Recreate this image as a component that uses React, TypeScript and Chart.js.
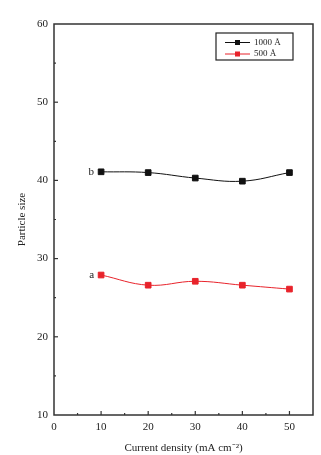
import React, { useEffect, useRef } from "react";
import { Chart, registerables } from "chart.js";

Chart.register(...registerables);

const currentDensity = [10, 20, 30, 40, 50];
const size1000 = [41.1, 41.0, 40.3, 39.9, 41.0];
const size500 = [27.9, 26.6, 27.1, 26.6, 26.1];
const seriesLabels = ["1000 Å", "500 Å"];
const curveTags = ["b", "a"];
const xTitle = "Current density (mA cm\u207B\u00B2)";
const yTitle = "Particle size";

const FONT = "'Liberation Serif', 'Times New Roman', serif";
const RED = "#e8232b";
const BLACK = "#111111";

const framePlugin = {
  id: "frame",
  afterDraw(chart: any) {
    const { ctx, chartArea } = chart;
    const { left, right, top, bottom } = chartArea;
    const xs = chart.scales.x;
    const ys = chart.scales.y;
    ctx.save();
    ctx.strokeStyle = "#333";
    ctx.lineWidth = 1.5;
    ctx.strokeRect(left, top, right - left, bottom - top);
    ctx.lineWidth = 1.2;
    for (let v = 5; v < 55; v += 5) {
      const px = xs.getPixelForValue(v);
      const len = v % 10 === 0 ? 4 : 2;
      ctx.beginPath();
      ctx.moveTo(px, bottom);
      ctx.lineTo(px, bottom - len);
      ctx.stroke();
    }
    for (let v = 15; v < 60; v += 5) {
      const py = ys.getPixelForValue(v);
      const len = v % 10 === 0 ? 4 : 2;
      ctx.beginPath();
      ctx.moveTo(left, py);
      ctx.lineTo(left + len, py);
      ctx.stroke();
    }
    ctx.fillStyle = "#222";
    ctx.font = `11px ${FONT}`;
    ctx.textAlign = "right";
    ctx.textBaseline = "middle";
    const d0 = chart.getDatasetMeta(0).data[0];
    const d1 = chart.getDatasetMeta(1).data[0];
    ctx.fillText(curveTags[0], d0.x - 7, d0.y);
    ctx.fillText(curveTags[1], d1.x - 7, d1.y);
    const lx = right - 97;
    const ly = top + 9;
    const lw = 77;
    const lh = 27;
    ctx.lineWidth = 1.2;
    ctx.strokeStyle = "#222";
    ctx.strokeRect(lx, ly, lw, lh);
    const colors = [BLACK, RED];
    ctx.textAlign = "left";
    ctx.font = `9px ${FONT}`;
    for (let i = 0; i < 2; i++) {
      const cy = ly + 9.5 + i * 11.5;
      ctx.strokeStyle = colors[i];
      ctx.lineWidth = 1;
      ctx.beginPath();
      ctx.moveTo(lx + 9, cy);
      ctx.lineTo(lx + 34, cy);
      ctx.stroke();
      ctx.fillStyle = colors[i];
      ctx.fillRect(lx + 19, cy - 2.5, 5, 5);
      ctx.fillStyle = "#222";
      ctx.fillText(seriesLabels[i], lx + 38, cy);
    }
    ctx.restore();
  },
};

export default function App() {
  const ref = useRef<HTMLCanvasElement | null>(null);
  useEffect(() => {
    if (!ref.current) return;
    const chart = new Chart(ref.current, {
      type: "line",
      data: {
        datasets: [
          {
            label: seriesLabels[0],
            data: currentDensity.map((x, i) => ({ x, y: size1000[i] })),
            borderColor: BLACK,
            backgroundColor: BLACK,
            borderWidth: 1,
            pointStyle: "rect",
            pointRadius: 4,
            tension: 0.4,
          },
          {
            label: seriesLabels[1],
            data: currentDensity.map((x, i) => ({ x, y: size500[i] })),
            borderColor: RED,
            backgroundColor: RED,
            borderWidth: 1,
            pointStyle: "rect",
            pointRadius: 4,
            tension: 0.4,
          },
        ],
      },
      options: {
        responsive: false,
        animation: false,
        layout: { padding: { left: 0, right: 8, top: 24, bottom: 0 } },
        plugins: { legend: { display: false }, tooltip: { enabled: false } },
        scales: {
          x: {
            type: "linear",
            min: 0,
            max: 55,
            grid: { display: false, drawTicks: false },
            border: { display: false },
            ticks: { stepSize: 10, padding: 6, color: "#222", font: { family: FONT, size: 11 } },
            afterBuildTicks: (s: any) => {
              s.ticks = s.ticks.filter((t: any) => t.value % 10 === 0);
            },
            afterFit: (s: any) => {
              s.height = 40;
            },
            title: {
              display: true,
              text: xTitle,
              color: "#222",
              font: { family: FONT, size: 11 },
              padding: { top: 0, bottom: 0 },
            },
          },
          y: {
            type: "linear",
            min: 10,
            max: 60,
            grid: { display: false, drawTicks: false },
            border: { display: false },
            ticks: { stepSize: 10, padding: 6, color: "#222", font: { family: FONT, size: 11 } },
            afterFit: (s: any) => {
              s.width = 54;
            },
            title: {
              display: true,
              text: yTitle,
              color: "#222",
              font: { family: FONT, size: 11 },
              padding: { top: 16, bottom: 0 },
            },
          },
        },
      },
      plugins: [framePlugin],
    });
    return () => chart.destroy();
  }, []);
  return (
    <div style={{ position: "absolute", left: 0, top: 0, width: 321, height: 455, background: "#fff" }}>
      <canvas ref={ref} width={321} height={455} />
    </div>
  );
}
